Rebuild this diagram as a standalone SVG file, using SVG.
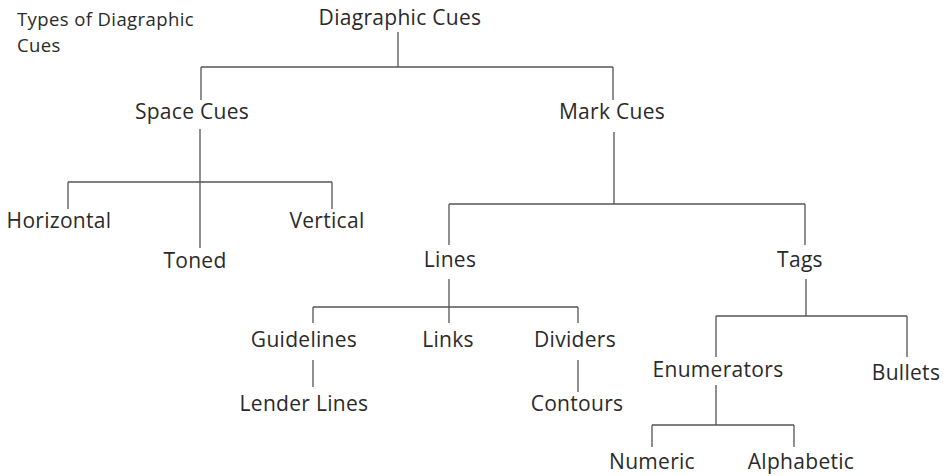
<svg xmlns="http://www.w3.org/2000/svg" width="950" height="476" viewBox="0 0 950 476">
<style>
text{font-family:"Open Sans","Noto Sans","Liberation Sans",sans-serif;fill:#2a2a2a;}
.n{font-size:21px;text-anchor:middle;letter-spacing:0.3px;}
.cap{font-size:18.5px;letter-spacing:0.4px;}
.c path{stroke:#555;stroke-width:1.3;fill:none;}
</style>
<rect width="950" height="476" fill="#fff"/>
<g id="caption"><text class="cap" x="17" y="26">Types of Diagraphic</text><text class="cap" x="17" y="52">Cues</text></g>
<g class="c" id="connectors">
<path d="M398,32V67M201,67H613M201,67V100M613,67V100"/>
<path d="M200,129V248M68,182H332M68,182V209M332,182V209"/>
<path d="M614,132V204M449,204H805M449,204V245M805,204V245"/>
<path d="M449,279V323M313,307H578M313,307V323M578,307V323"/>
<path d="M313,360V387M578,360V392"/>
<path d="M806,279V316M716,316H907M716,316V357M907,316V357"/>
<path d="M716,385V425M652,425H794M652,425V447M794,425V447"/>
</g>
<g id="diagraphic-cues"><text class="n" x="400" y="25">Diagraphic Cues</text></g>
<g id="space-cues"><text class="n" x="192" y="119">Space Cues</text></g>
<g id="mark-cues"><text class="n" x="612" y="119">Mark Cues</text></g>
<g id="horizontal"><text class="n" x="59" y="228">Horizontal</text></g>
<g id="vertical"><text class="n" x="327" y="228">Vertical</text></g>
<g id="toned"><text class="n" x="195" y="268">Toned</text></g>
<g id="lines"><text class="n" x="450" y="267">Lines</text></g>
<g id="tags"><text class="n" x="800" y="267">Tags</text></g>
<g id="guidelines"><text class="n" x="304" y="347">Guidelines</text></g>
<g id="links"><text class="n" x="448" y="347">Links</text></g>
<g id="dividers"><text class="n" x="575" y="347">Dividers</text></g>
<g id="lender-lines"><text class="n" x="304" y="411">Lender Lines</text></g>
<g id="contours"><text class="n" x="577" y="411">Contours</text></g>
<g id="enumerators"><text class="n" x="718" y="377">Enumerators</text></g>
<g id="bullets"><text class="n" x="906" y="380">Bullets</text></g>
<g id="numeric"><text class="n" x="652" y="469">Numeric</text></g>
<g id="alphabetic"><text class="n" x="801" y="469">Alphabetic</text></g>
</svg>
